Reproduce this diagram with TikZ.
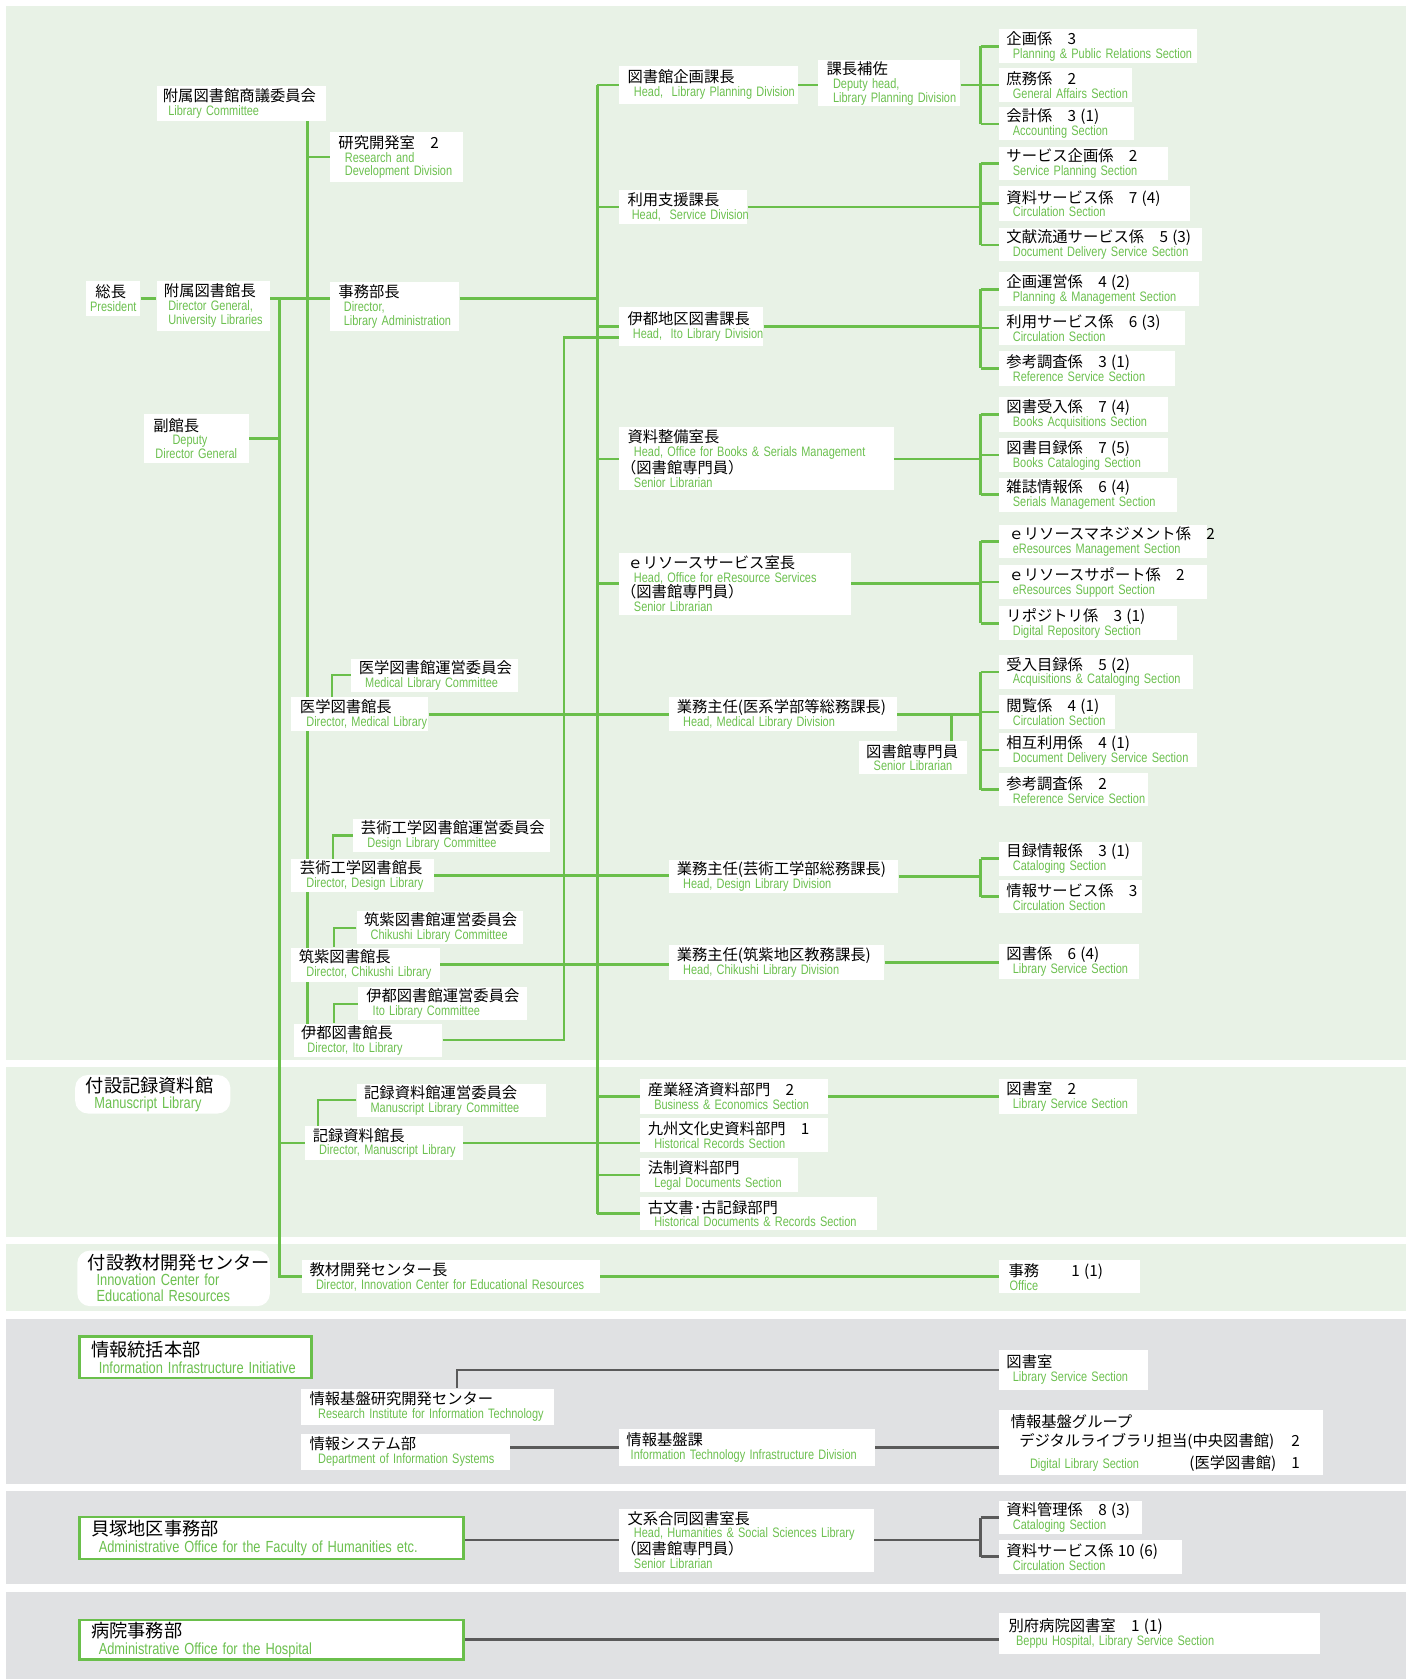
\documentclass[tikz,border=0pt]{standalone}
\usepackage{fontspec}
\usepackage{xcolor}
\usepackage{tikz}
\usetikzlibrary{positioning,calc,backgrounds}

\newfontfamily\jpfont{Noto Sans CJK JP}
\newfontfamily\enfont[FakeStretch=0.8,WordSpace=0.75]{Liberation Sans}

\definecolor{linegreen}{HTML}{6ABF4B}
\definecolor{textgreen}{HTML}{6CC04F}
\definecolor{panelgreen}{HTML}{E8F2E6}
\definecolor{panelgray}{HTML}{E0E1E3}
\definecolor{linegray}{HTML}{5A5A5A}

\newcommand\jp[2][7pt]{\hspace*{#1}\mbox{\jpfont\fontsize{14.3}{13}\selectfont #2}}
\newcommand\en[2][13pt]{\hspace*{#1}\mbox{\enfont\fontsize{12.8}{13}\selectfont\color{textgreen}#2}}
\newcommand\jph[2][10pt]{\hspace*{#1}\mbox{\jpfont\fontsize{17}{16}\selectfont #2}}
\newcommand\enh[2][18pt]{\hspace*{#1}\mbox{\enfont\fontsize{15}{14}\selectfont\color{textgreen}#2}}

\begin{document}
\begin{tikzpicture}[
    x=1pt, y=-1pt,
    box/.style 2 args={fill=white, anchor=north west, inner xsep=0pt, inner ysep=1pt,
        text width=#1pt, minimum height=#2pt, align=left, font=\fontsize{12}{13}\selectfont},
    rbox/.style 2 args={box={#1}{#2}, rounded corners=12pt, font=\fontsize{14}{15}\selectfont},
    hbox/.style 2 args={box={#1}{#2}, draw=linegreen, line width=2.5pt, font=\fontsize{14}{16}\selectfont},
    link/.style={draw=linegreen, line width=2.4pt},
    glink/.style={draw=linegray, line width=2.4pt}
]
\useasboundingbox (0,0) rectangle (1320,1569.4);

% panels
\begin{scope}[on background layer]
    \fill[panelgreen] (6,6) rectangle (1313,990);
    \fill[panelgreen] (6,997) rectangle (1313,1156);
    \fill[panelgreen] (6,1162) rectangle (1313,1225);
    \fill[panelgray] (6,1232) rectangle (1313,1386);
    \fill[panelgray] (6,1393) rectangle (1313,1480);
    \fill[panelgray] (6,1487) rectangle (1313,1568);
\end{scope}

% bus lines
\coordinate (topy) at (0,279);
\coordinate (busA) at (261,0);
\coordinate (busB) at (287,0);
\coordinate (busC) at (527,0);
\coordinate (busD) at (558,0);
\coordinate (brk) at (916,0);

% left part
\node[box={51}{33}] (pres) at (80,262) {\jp[9pt]{総長}\\\en[4pt]{President}};
\node[box={106}{47}] (dirgen) at (146,262) {\jp[7pt]{附属図書館長}\\\en[11pt]{Director General,}\\\en[11pt]{University Libraries}};
\node[box={158}{33}] (libcom) at (146,80) {\jp[6pt]{附属図書館商議委員会}\\\en[11pt]{Library Committee}};
\node[box={98}{45}] (deputy) at (134,387) {\jp[9pt]{副館長}\\\en[27pt]{Deputy}\\\en[11pt]{Director General}};
\node[box={124}{47}] (rnd) at (308,123) {\jp[8pt]{研究開発室　2}\\\en[14pt]{Research and}\\\en[14pt]{Development Division}};
\node[box={121}{46}] (admdir) at (308,263) {\jp[8pt]{事務部長}\\\en[13pt]{Director,}\\\en[13pt]{Library Administration}};

\node[box={156}{31}] (medcom) at (328,615) {\jp{医学図書館運営委員会}\\\en{Medical Library Committee}};
\node[box={128}{32}] (meddir) at (272,651) {\jp[8pt]{医学図書館長}\\\en[14pt]{Director, Medical Library}};
\node[box={184}{31}] (descom) at (330,765) {\jp{芸術工学図書館運営委員会}\\\en{Design Library Committee}};
\node[box={133}{31}] (desdir) at (272,802) {\jp[8pt]{芸術工学図書館長}\\\en[14pt]{Director, Design Library}};
\node[box={155}{31}] (chicom) at (333,851) {\jp{筑紫図書館運営委員会}\\\en{Chikushi Library Committee}};
\node[box={139}{32}] (chidir) at (272,885) {\jp[7pt]{筑紫図書館長}\\\en[14pt]{Director, Chikushi Library}};
\node[box={158}{31}] (itocom) at (334,922) {\jp[8pt]{伊都図書館運営委員会}\\\en[14pt]{Ito Library Committee}};
\node[box={139}{31}] (itodir) at (274,956) {\jp[7pt]{伊都図書館長}\\\en[13pt]{Director, Ito Library}};

% divisions
\node[box={167}{36}] (lpd) at (578,61) {\jp[8pt]{図書館企画課長}\\\en[14pt]{Head,\ \ Library Planning Division}};
\node[box={133}{43}] (lpdep) at (764,56) {\jp[8pt]{課長補佐}\\\en[14pt]{Deputy head,}\\\en[14pt]{Library Planning Division}};
\node[box={120}{32}] (svd) at (578,177) {\jp[8pt]{利用支援課長}\\\en[12pt]{Head,\ \ Service Division}};
\node[box={135}{36}] (itod) at (578,287) {\jp[8pt]{伊都地区図書課長}\\\en[13pt]{Head,\ \ Ito Library Division}};
\node[box={257}{59}] (bsm) at (578,399) {\jp[8pt]{資料整備室長}\\\en[14pt]{Head, Office for Books \& Serials Management}\\\jp[2pt]{（図書館専門員）}\\\en[14pt]{Senior Librarian}};
\node[box={217}{58}] (ers) at (578,516) {\jp[8pt]{ｅリソースサービス室長}\\\en[14pt]{Head, Office for eResource Services}\\\jp[2pt]{（図書館専門員）}\\\en[14pt]{Senior Librarian}};
\node[box={213}{32}] (medhd) at (625,651) {\jp[7pt]{業務主任(医系学部等総務課長)}\\\en[13pt]{Head, Medical Library Division}};
\node[box={101}{31}] (medsl) at (802,692) {\jp[7pt]{図書館専門員}\\\en[14pt]{Senior Librarian}};
\node[box={214}{31}] (deshd) at (625,803) {\jp[7pt]{業務主任(芸術工学部総務課長)}\\\en[13pt]{Head, Design Library Division}};
\node[box={201}{32}] (chihd) at (625,883) {\jp[7pt]{業務主任(筑紫地区教務課長)}\\\en[13pt]{Head, Chikushi Library Division}};

% sections
\node[box={185}{32}] (s1) at (933,27) {\jp{企画係　3}\\\en{Planning \& Public Relations Section}};
\node[box={124}{32}] (s2) at (933,63) {\jp{庶務係　2}\\\en{General Affairs Section}};
\node[box={126}{31}] (s3) at (933,100) {\jp{会計係　3 (1)}\\\en{Accounting Section}};
\node[box={158}{31}] (s4) at (933,137) {\jp{サービス企画係　2}\\\en{Service Planning Section}};
\node[box={178}{32}] (s5) at (933,174) {\jp{資料サービス係　7 (4)}\\\en{Circulation Section}};
\node[box={190}{31}] (s6) at (933,213) {\jp{文献流通サービス係　5 (3)}\\\en{Document Delivery Service Section}};
\node[box={187}{32}] (s7) at (933,254) {\jp{企画運営係　4 (2)}\\\en{Planning \& Management Section}};
\node[box={174}{32}] (s8) at (933,290) {\jp{利用サービス係　6 (3)}\\\en{Circulation Section}};
\node[box={164}{32}] (s9) at (933,328) {\jp{参考調査係　3 (1)}\\\en{Reference Service Section}};
\node[box={158}{32}] (s10) at (933,371) {\jp{図書受入係　7 (4)}\\\en{Books Acquisitions Section}};
\node[box={158}{32}] (s11) at (933,409) {\jp{図書目録係　7 (5)}\\\en{Books Cataloging Section}};
\node[box={166}{32}] (s12) at (933,446) {\jp{雑誌情報係　6 (4)}\\\en{Serials Management Section}};
\node[box={194}{31}] (s13) at (933,490) {\jp[9pt]{ｅリソースマネジメント係　2}\\\en{eResources Management Section}};
\node[box={194}{31}] (s14) at (933,528) {\jp[9pt]{ｅリソースサポート係　2}\\\en{eResources Support Section}};
\node[box={166}{32}] (s15) at (933,566) {\jp{リポジトリ係　3 (1)}\\\en{Digital Repository Section}};
\node[box={181}{31}] (s16) at (933,612) {\jp{受入目録係　5 (2)}\\\en{Acquisitions \& Cataloging Section}};
\node[box={108}{32}] (s17) at (933,649) {\jp{閲覧係　4 (1)}\\\en{Circulation Section}};
\node[box={185}{31}] (s18) at (933,685) {\jp{相互利用係　4 (1)}\\\en{Document Delivery Service Section}};
\node[box={139}{31}] (s19) at (933,722) {\jp{参考調査係　2}\\\en{Reference Service Section}};
\node[box={134}{32}] (s20) at (933,786) {\jp{目録情報係　3 (1)}\\\en{Cataloging Section}};
\node[box={134}{31}] (s21) at (933,822) {\jp{情報サービス係　3}\\\en{Circulation Section}};
\node[box={131}{32}] (s22) at (933,882) {\jp{図書係　6 (4)}\\\en{Library Service Section}};

% manuscript library
\node[rbox={145}{36}] (mlhead) at (70,1004) {\jph{付設記録資料館}\\\enh{Manuscript Library}};
\node[box={177}{31}] (mlcom) at (333,1012) {\jp{記録資料館運営委員会}\\\en{Manuscript Library Committee}};
\node[box={147}{31}] (mldir) at (285,1052) {\jp{記録資料館長}\\\en{Director, Manuscript Library}};
\node[box={175}{32}] (bes) at (598,1008) {\jp{産業経済資料部門　2}\\\en{Business \& Economics Section}};
\node[box={175}{32}] (hrs) at (598,1044) {\jp{九州文化史資料部門　1}\\\en{Historical Records Section}};
\node[box={147}{31}] (lds) at (598,1082) {\jp{法制資料部門}\\\en{Legal Documents Section}};
\node[box={221}{31}] (hdr) at (598,1118) {\jp{古文書･古記録部門}\\\en{Historical Documents \& Records Section}};
\node[box={129}{32}] (s23) at (933,1008) {\jp{図書室　2}\\\en{Library Service Section}};

% innovation center
\node[rbox={180}{52}] (icer) at (72,1168) {\jph{付設教材開発センター}\\\enh{Innovation Center for}\\\enh{Educational Resources}};
\node[box={278}{31}] (icdir) at (282,1177) {\jp{教材開発センター長}\\\en{Director, Innovation Center for Educational Resources}};
\node[box={132}{31}] (icoff) at (933,1177) {\jp[9pt]{事務\hspace{30pt}1 (1)}\\\en[10pt]{Office}};

% information infrastructure
\node[hbox={217}{39}] (iii) at (73,1247) {\jph[11pt]{情報統括本部}\\\enh{Information Infrastructure Initiative}};
\node[box={236}{34}] (rit) at (281,1297) {\jp[8pt]{情報基盤研究開発センター}\\\en[16pt]{Research Institute for Information Technology}};
\node[box={195}{34}] (dis) at (281,1339) {\jp[8pt]{情報システム部}\\\en[16pt]{Department of Information Systems}};
\node[box={239}{34}] (itid) at (578,1335) {\jp[7pt]{情報基盤課}\\\en[11pt]{Information Technology Infrastructure Division}};
\node[box={139}{37}] (gls) at (933,1261) {\jp{図書室}\\\en{Library Service Section}};
\node[box={303}{61}] (dlg) at (933,1317) {\jp[11pt]{情報基盤グループ}\\[4pt]
    \jp[19pt]{デジタルライブラリ担当(中央図書館)}\hfill\jp[0pt]{2}\rule{22pt}{0pt}\\[4pt]
    \en[29pt]{Digital Library Section}\hfill\jp[0pt]{(医学図書館)\hspace*{14pt}1}\rule{22pt}{0pt}};

% humanities
\node[hbox={359}{39}] (hum) at (73,1416) {\jph[11pt]{貝塚地区事務部}\\\enh{Administrative Office for the Faculty of Humanities etc.}};
\node[box={238}{59}] (hssl) at (578,1409) {\jp[8pt]{文系合同図書室長}\\\en[14pt]{Head, Humanities \& Social Sciences Library}\\\jp[2pt]{（図書館専門員）}\\\en[14pt]{Senior Librarian}};
\node[box={134}{31}] (s24) at (933,1402) {\jp{資料管理係　8 (3)}\\\en{Cataloging Section}};
\node[box={171}{32}] (s25) at (933,1438) {\jp{資料サービス係 10 (6)}\\\en{Circulation Section}};

% hospital
\node[hbox={359}{37}] (hosp) at (73,1512) {\jph[11pt]{病院事務部}\\\enh{Administrative Office for the Hospital}};
\node[box={300}{38}] (bph) at (933,1507) {\jp[9pt]{別府病院図書室　1 (1)}\\\en[16pt]{Beppu Hospital, Library Service Section}};

\coordinate (itolow) at ($(itod.west)+(0,10)$);
\coordinate (slx) at ($(medsl.north)+(36,0)$);
\coordinate (ritc) at ($(rit.north west)+(146,0)$);

% connectors
\begin{scope}[on background layer]
    \draw[link] (pres.east |- topy) -- (dirgen.west |- topy);
    \draw[link] (dirgen.east |- topy) -- (admdir.west |- topy);
    \draw[link] (admdir.east |- topy) -- (busD |- topy);
    \draw[link] (busA |- topy) -- (busA |- icdir.west) -- (icdir.west);
    \draw[link] (deputy.east) -- (busA |- deputy.east);
    \draw[link] (busA |- mldir.west) -- (mldir.west);
    \draw[link] (busB |- libcom.south) -- (busB |- itodir.west);
    \draw[link] (busB |- rnd.west) -- (rnd.west);
    \draw[link] (medcom.west) -| ($(meddir.north west)+(38,0)$);
    \draw[link] (descom.west) -| ($(desdir.north west)+(39,0)$);
    \draw[link] (chicom.west) -| ($(chidir.north west)+(40,0)$);
    \draw[link] (itocom.west) -| ($(itodir.north west)+(38,0)$);
    \draw[link] (mlcom.west) -| ($(mldir.north west)+(12,0)$);
    \draw[link] (meddir.east) -- (medhd.west);
    \draw[link] (desdir.east) -- (deshd.west |- desdir.east);
    \draw[link] (chidir.east) -- (chihd.west |- chidir.east);
    \draw[link] (itodir.east) -| (busC |- itolow) -- (itolow);
    \draw[link] (busD |- lpd.west) -- (busD |- hdr.west);
    \foreach \n in {lpd,svd,itod,bsm,ers,bes,lds,hdr}
        \draw[link] (busD |- \n.west) -- (\n.west);
    \draw[link] (mldir.east) -- (hrs.west |- mldir.east);
    \draw[link] (lpd.east) -- (lpdep.west |- lpd.east);
    \draw[link] (lpdep.east |- lpd.east) -- (brk |- lpd.east);
    \foreach \n in {svd,itod,bsm,ers,medhd,deshd}
        \draw[link] (\n.east) -- (brk |- \n.east);
    \foreach \a/\b in {s1/s3,s4/s6,s7/s9,s10/s12,s13/s15,s16/s19,s20/s21}
        \draw[link] (brk |- \a.west) -- (brk |- \b.west);
    \foreach \i in {1,...,21}
        \draw[link] (brk |- s\i.west) -- (s\i.west);
    \draw[link] (slx) -- (slx |- medhd.east);
    \draw[link] (chihd.east) -- (s22.west |- chihd.east);
    \draw[link] (bes.east) -- (s23.west |- bes.east);
    \draw[link] (icdir.east) -- (icoff.west |- icdir.east);
    % grey part
    \draw[glink] (gls.west) -| (ritc);
    \draw[glink] (dis.east |- itid.west) -- (itid.west);
    \draw[glink] (itid.east) -- (dlg.west |- itid.east);
    \draw[glink] (hum.east |- hssl.west) -- (hssl.west);
    \draw[glink] (hssl.east) -- (brk |- hssl.east);
    \draw[glink] (brk |- s24.west) -- (brk |- s25.west);
    \foreach \n in {s24,s25}
        \draw[glink] (brk |- \n.west) -- (\n.west);
    \draw[glink] (hosp.east) -- (bph.west |- hosp.east);
\end{scope}
\end{tikzpicture}
\end{document}
